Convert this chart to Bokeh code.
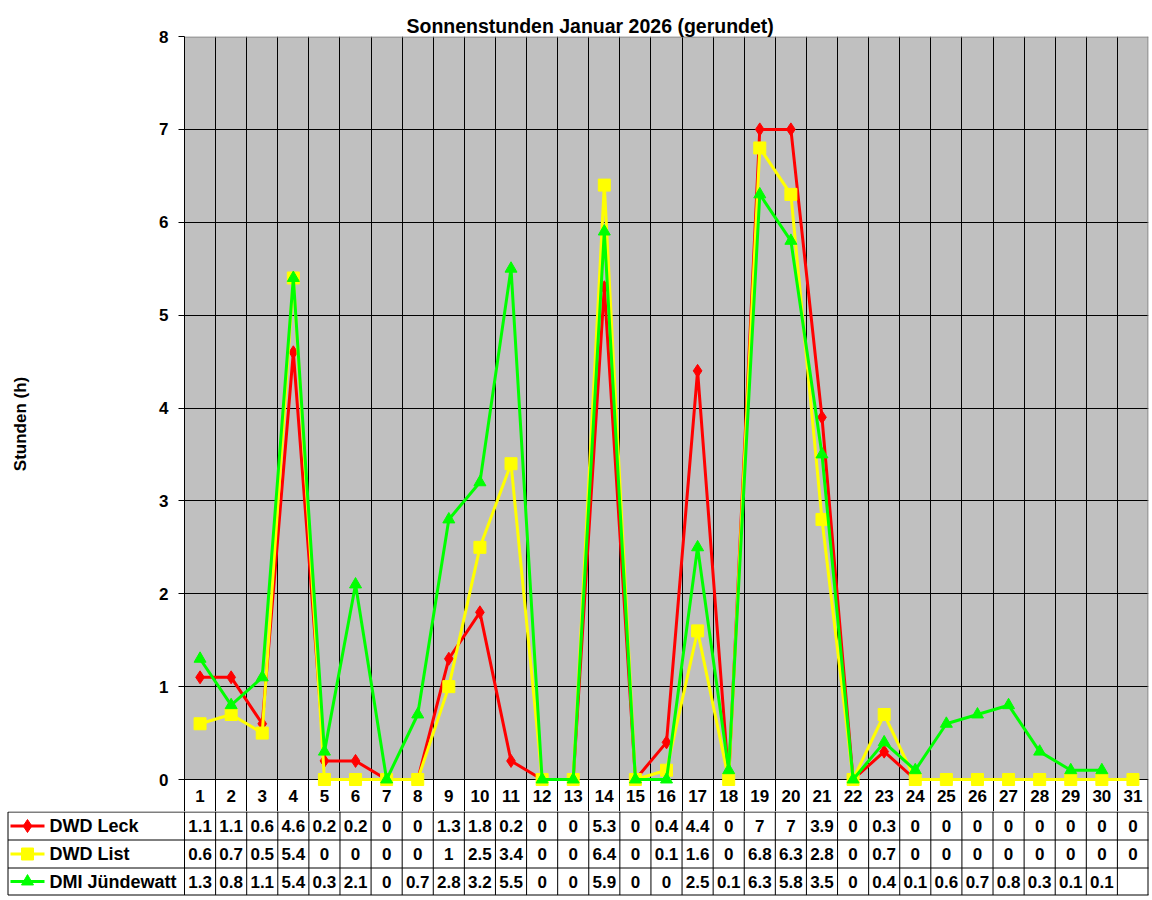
import numpy as np
from bokeh.plotting import figure
from bokeh.layouts import column
from bokeh.models import Range1d, FixedTicker, Grid, ColumnDataSource, BoxAnnotation
from bokeh.embed import file_html
from bokeh.resources import INLINE
from bokeh.core.properties import value

# ---------------- data ----------------
days = list(range(1, 32))
day_labels = [str(d) for d in days]
series_names = ["DWD Leck", "DWD List", "DMI Jündewatt"]
leck = [1.1, 1.1, 0.6, 4.6, 0.2, 0.2, 0, 0, 1.3, 1.8, 0.2, 0, 0, 5.3, 0, 0.4,
        4.4, 0, 7, 7, 3.9, 0, 0.3, 0, 0, 0, 0, 0, 0, 0, 0]
list_ = [0.6, 0.7, 0.5, 5.4, 0, 0, 0, 0, 1, 2.5, 3.4, 0, 0, 6.4, 0, 0.1,
         1.6, 0, 6.8, 6.3, 2.8, 0, 0.7, 0, 0, 0, 0, 0, 0, 0, 0]
dmi = [1.3, 0.8, 1.1, 5.4, 0.3, 2.1, 0, 0.7, 2.8, 3.2, 5.5, 0, 0, 5.9, 0, 0,
       2.5, 0.1, 6.3, 5.8, 3.5, 0, 0.4, 0.1, 0.6, 0.7, 0.8, 0.3, 0.1, 0.1, None]
y_ticks = [0, 1, 2, 3, 4, 5, 6, 7, 8]
title_text = "Sonnenstunden Januar 2026 (gerundet)"
y_label = "Stunden (h)"

series = [leck, list_, dmi]
colors = ["#FF0000", "#FFFF00", "#00FF00"]
markers = ["diamond", "square", "triangle"]
msizes = [13, 12, 12]

# ---------------- layout constants ----------------
FONT = "Liberation Sans"
W = 1152
LEFT = 184
RIGHT = 4
FRAME_W = W - LEFT - RIGHT
COLW = FRAME_W / 31.0
TOP = 36
CHART_H = 743
HEAD_H = 32
PXU = CHART_H / 8.0
Y_BOT = -HEAD_H / PXU
H1 = TOP + CHART_H + HEAD_H

def fmt(v):
    return "" if v is None else f"{v:g}"

def arr(vals):
    return np.array([np.nan if v is None else v for v in vals], dtype=float)

# ---------------- chart (with the day-number row) ----------------
p = figure(width=W, height=H1, x_range=Range1d(0.5, 31.5), y_range=Range1d(Y_BOT, 8),
           output_backend="svg", toolbar_location=None, x_axis_location=None,
           min_border_left=LEFT, min_border_right=RIGHT, min_border_top=TOP,
           min_border_bottom=0, background_fill_color="white",
           border_fill_color="white", outline_line_color=None)
p.frame_align = False
for g in p.grid:
    g.visible = False

p.add_layout(BoxAnnotation(bottom=0, top=8, fill_color="#C0C0C0", fill_alpha=1,
                           line_color=None, level="underlay"))
p.add_layout(Grid(dimension=1, ticker=FixedTicker(ticks=y_ticks[:-1]),
                  grid_line_color="black", grid_line_width=1))
p.add_layout(Grid(dimension=0, ticker=FixedTicker(ticks=[d + 0.5 for d in days[:-1]]),
                  grid_line_color="black", grid_line_width=1))

hx = 0.5 / COLW
hy = 0.5 / PXU
# top border (grey), right border (grey in the chart, black in the day row)
p.segment(x0=[0.5], x1=[31.5], y0=[8 - hy], y1=[8 - hy], line_color="#808080", line_width=1)
p.segment(x0=[31.5 - hx], x1=[31.5 - hx], y0=[0], y1=[8], line_color="#808080", line_width=1)
p.segment(x0=[31.5 - hx], x1=[31.5 - hx], y0=[Y_BOT], y1=[0], line_color="black", line_width=1)

ax = p.yaxis[0]
ax.ticker = FixedTicker(ticks=y_ticks)
ax.bounds = (Y_BOT, 8)
ax.minor_tick_line_color = None
ax.major_tick_in = 0
ax.major_tick_out = 6
ax.major_tick_line_color = "black"
ax.axis_line_color = "black"
ax.major_label_standoff = 10
ax.major_label_text_font = FONT
ax.major_label_text_font_style = "bold"
ax.major_label_text_font_size = "17px"
ax.major_label_text_color = "black"
ax.axis_label = y_label
ax.axis_label_text_font = FONT
ax.axis_label_text_font_style = "bold"
ax.axis_label_text_font_size = "17px"
ax.axis_label_text_color = "black"
ax.axis_label_standoff = 126

p.title.text = title_text
p.title.align = "left"
p.title.offset = 222
p.title.standoff = 0
p.title.text_font = FONT
p.title.text_font_style = "bold"
p.title.text_font_size = "19.5px"
p.title.text_color = "black"

for vals, col, mk, ms in zip(series, colors, markers, msizes):
    src = ColumnDataSource(dict(x=days, y=arr(vals)))
    p.line("x", "y", source=src, line_color=col, line_width=3)
    p.scatter("x", "y", source=src, marker=mk, size=ms, fill_color=col, line_color=col)

# day numbers
p.text(x=days, y=[Y_BOT / 2] * 31, text=day_labels, text_align="center",
       text_baseline="middle", text_font=value(FONT), text_font_style="bold",
       text_font_size="17px", text_color="black")

# ---------------- data table rows ----------------
H2 = 86
x0 = 0.5 - LEFT / COLW
x1 = 31.5 + RIGHT / COLW

def px(fx):
    return x0 + fx / COLW

t = figure(width=W, height=H2, x_range=Range1d(x0, x1), y_range=Range1d(H2, 0),
           output_backend="svg", toolbar_location=None, x_axis_location=None,
           y_axis_location=None, min_border=0, min_border_left=0, min_border_right=0,
           min_border_top=0, min_border_bottom=0, outline_line_color=None,
           background_fill_color="white", border_fill_color="white")
t.frame_align = False
for g in t.grid:
    g.visible = False

row_edges = [0.5, 28.5, 56.5, 83.5]
row_centers = [(row_edges[i] + row_edges[i + 1]) / 2 for i in range(3)]

t.segment(x0=[px(7.5)] * 4, x1=[31.5] * 4, y0=row_edges, y1=row_edges,
          line_color="black", line_width=1)
vx = [d - 0.5 for d in days] + [31.5 - hx]
t.segment(x0=vx, x1=vx, y0=[0] * len(vx), y1=[row_edges[-1]] * len(vx),
          line_color="black", line_width=1)
t.segment(x0=[px(7.5)], x1=[px(7.5)], y0=[row_edges[0]], y1=[row_edges[-1]],
          line_color="black", line_width=1)

for name, vals, col, mk, ms, yc in zip(series_names, series, colors, markers, msizes, row_centers):
    t.text(x=days, y=[yc] * 31, text=[fmt(v) for v in vals], text_align="center",
           text_baseline="middle", text_font=value(FONT), text_font_style="bold",
           text_font_size="17px", text_color="black")
    t.segment(x0=[px(10)], x1=[px(44)], y0=[yc], y1=[yc], line_color=col, line_width=3)
    t.scatter(x=[px(27)], y=[yc], marker=mk, size=ms, fill_color=col, line_color=col)
    t.text(x=[px(49)], y=[yc], text=[name], text_align="left", text_baseline="middle",
           text_font=value(FONT), text_font_style="bold", text_font_size="18px",
           text_color="black")

layout = column(p, t)
open("out.html", "w").write(file_html(layout, INLINE))
